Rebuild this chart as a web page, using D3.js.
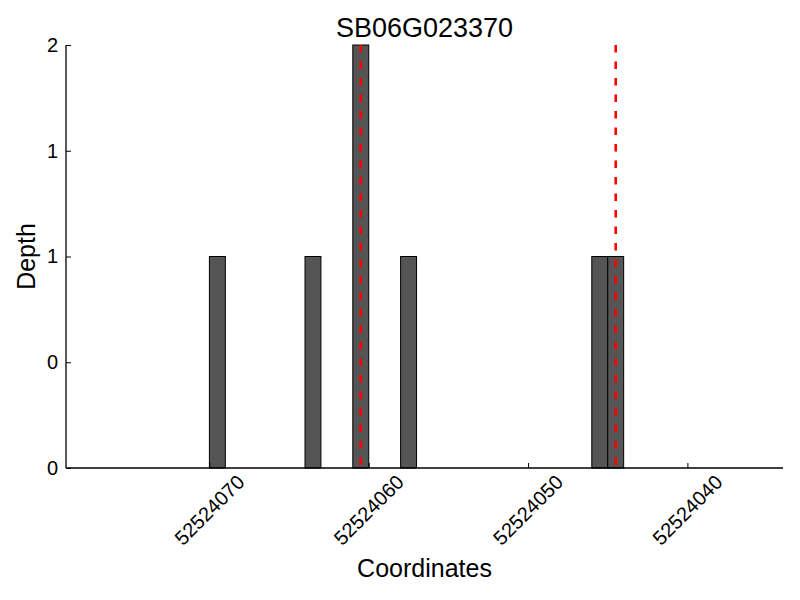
<!DOCTYPE html>
<html>
<head>
<meta charset="utf-8">
<script src="https://cdn.jsdelivr.net/npm/d3@7"></script>
<style>
  body { margin: 0; background: #fff; }
  text { font-family: "Liberation Sans", Arial, sans-serif; fill: #000; }
</style>
</head>
<body>
<div id="chart"></div>
<script>
// read positions (bar covers [pos, pos+1]) and depth
var positions = [52524069, 52524063, 52524060, 52524057, 52524045, 52524044];
var depths = [1, 1, 2, 1, 1, 1];
var markers = [52524060.5, 52524044.5];
var xTicks = [52524070, 52524060, 52524050, 52524040];
var yTicks = [0, 0.5, 1, 1.5, 2];
var title = "SB06G023370";

var width = 800, height = 600;
var margin = {top: 45, right: 17, bottom: 132, left: 66};

var svg = d3.select("#chart").append("svg")
    .attr("width", width)
    .attr("height", height);

var x = d3.scaleLinear()
    .domain([52524079, 52524034])
    .range([margin.left, width - margin.right]);

var y = d3.scaleLinear()
    .domain([0, 2])
    .range([height - margin.bottom, margin.top]);

var bars = positions.map(function(p, i) { return {pos: p, depth: depths[i]}; });

svg.append("g")
  .selectAll("rect")
  .data(bars)
  .enter().append("rect")
    .attr("x", function(d) { return x(d.pos + 1); })
    .attr("width", function(d) { return x(d.pos) - x(d.pos + 1); })
    .attr("y", function(d) { return y(d.depth); })
    .attr("height", function(d) { return y(0) - y(d.depth); })
    .attr("fill", "#555555")
    .attr("stroke", "#000")
    .attr("stroke-width", 1);

svg.append("g")
  .selectAll("line")
  .data(markers)
  .enter().append("line")
    .attr("x1", function(d) { return x(d); })
    .attr("x2", function(d) { return x(d); })
    .attr("y1", y(2))
    .attr("y2", y(0))
    .attr("stroke", "#ff0000")
    .attr("stroke-width", 2.6)
    .attr("stroke-dasharray", "7.5,9");

// axes, ticks point inward
var xAxis = svg.append("g")
    .attr("transform", "translate(0," + y(0) + ")")
    .call(d3.axisBottom(x).tickValues(xTicks).tickSize(-5).tickFormat(""));
xAxis.select(".domain").attr("d", "M" + x.range()[0] + ",0H" + x.range()[1]).attr("stroke-width", 1.3);

xAxis.selectAll(".xlab")
  .data(xTicks)
  .enter().append("text")
    .attr("class", "xlab")
    .attr("transform", function(d) { return "translate(" + x(d) + ",42) rotate(-45)"; })
    .attr("text-anchor", "middle")
    .attr("dominant-baseline", "central")
    .attr("font-size", 20)
    .text(function(d) { return d; });

var yAxis = svg.append("g")
    .attr("transform", "translate(" + margin.left + ",0)")
    .call(d3.axisLeft(y).tickValues(yTicks).tickSize(-5).tickPadding(8)
      .tickFormat(function(d) { return Math.trunc(d); }));
yAxis.select(".domain").attr("d", "M0," + y.range()[0] + "V" + y.range()[1]).attr("stroke-width", 1.3);
yAxis.selectAll("text").attr("font-size", 20).attr("font-family", "Liberation Sans, Arial, sans-serif");

svg.append("text")
    .attr("x", (x.range()[0] + x.range()[1]) / 2)
    .attr("y", 37)
    .attr("text-anchor", "middle")
    .attr("font-size", 27)
    .text(title);

svg.append("text")
    .attr("x", (x.range()[0] + x.range()[1]) / 2)
    .attr("y", 577)
    .attr("text-anchor", "middle")
    .attr("font-size", 25)
    .text("Coordinates");

svg.append("text")
    .attr("transform", "translate(35," + (y(0) + y(2)) / 2 + ") rotate(-90)")
    .attr("text-anchor", "middle")
    .attr("font-size", 25)
    .text("Depth");
</script>
</body>
</html>
